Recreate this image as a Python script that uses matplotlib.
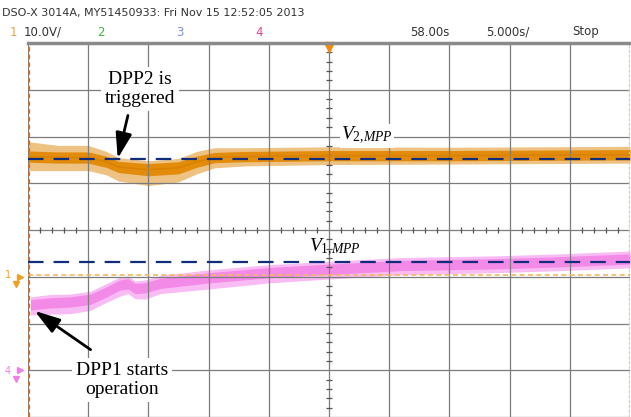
import numpy as np
import matplotlib
matplotlib.use("Agg")
import matplotlib.pyplot as plt

plt.rcParams['mathtext.fontset'] = 'custom'
plt.rcParams['mathtext.it'] = 'Liberation Serif:italic'
plt.rcParams['mathtext.rm'] = 'Liberation Serif'

# channel 1 (orange), time in s, volts (ch1 ground = 0 V)
t1 = [0, 2.5, 5, 6.5, 7.5, 10, 12.5, 14, 15.5, 18, 25, 35, 50]
v1 = [25.7, 25.5, 25.5, 24.6, 23.5, 22.9, 23.3, 24.6, 25.5, 25.7, 25.9, 25.9, 26.1]
v1_core = [1.2, 1.2, 1.2, 1.2, 1.2, 1.3, 1.3, 1.2, 1.1, 1.1, 1.1, 1.1, 1.1]
v1_up = [3.2, 2.6, 2.6, 2.2, 2.0, 1.9, 2.0, 2.2, 2.1, 1.9, 1.9, 1.8, 1.8]
v1_dn = [3.0, 2.8, 2.8, 2.8, 3.0, 3.4, 3.0, 2.6, 2.2, 2.0, 1.9, 1.8, 1.8]

# channel 4 (pink)
t4 = [0.2, 1.8, 3.5, 5.2, 6.4, 7.6, 8.3, 8.9, 9.7, 11, 15.1, 20.1, 24.3, 30.9, 39.2, 44.2, 50]
v4 = [-6.0, -5.6, -5.4, -4.8, -3.4, -1.8, -1.5, -2.5, -2.4, -1.4, -0.2, 0.9, 1.5, 2.4, 2.8, 3.2, 3.8]
v4_core = [1.1] * len(t4)
v4_up = [1.7, 1.8, 1.7, 1.7, 1.8, 1.7, 1.7, 1.6, 1.7, 1.7, 1.7, 1.7, 1.7, 1.7, 1.7, 1.7, 1.7]
v4_dn = [2.2, 2.4, 2.5, 2.4, 2.2, 2.4, 2.1, 2.2, 2.4, 2.2, 2.4, 2.2, 2.1, 2.0, 1.9, 1.9, 1.9]

v2_mpp = 25.2
v1_mpp = 3.2
gnd1 = 0.3

fig = plt.figure(figsize=(6.31, 4.17), dpi=100)
ax = fig.add_axes([28 / 631, 0, 602 / 631, 374 / 417])
ax.set_xlim(0, 50)
ax.set_ylim(-30, 50)
ax.set_xticks(np.arange(0, 51, 5))
ax.set_yticks(np.arange(-30, 51, 10))
ax.tick_params(length=0, labelbottom=False, labelleft=False)
ax.grid(color='#7c7c7c', lw=0.9)
for s in ['left', 'right', 'bottom']:
    ax.spines[s].set_visible(False)
ax.spines['top'].set_color('#8a8a8a')
ax.spines['top'].set_linewidth(2.5)

# centre line minor ticks
mx = [x for x in np.arange(0, 50.01, 1.0) if x % 5 != 0]
ax.plot(mx, [10] * len(mx), ls='none', marker='|', ms=5, mew=0.9, color='#555555')
my = [y for y in np.arange(-30, 50.01, 2.0) if y % 10 != 0]
ax.plot([25] * len(my), my, ls='none', marker='_', ms=5, mew=0.9, color='#555555')

# edges
ax.axvline(0.05, color='#c0703a', ls=(0, (2, 1.5)), lw=1.6)
ax.axvline(49.9, color='#f0c890', ls=(0, (2, 1.5)), lw=1.0)
ax.axhline(gnd1, color='#f0b860', ls=(0, (3, 2)), lw=1.2)

# traces
t1a, v1a = np.array(t1), np.array(v1)
ax.fill_between(t1a, v1a - np.array(v1_dn), v1a + np.array(v1_up), color='#e8ae5a', lw=0, alpha=0.75)
ax.fill_between(t1a, v1a - np.array(v1_core), v1a + np.array(v1_core), color='#e38c0c', lw=0)
ax.plot(t1a, v1a, color='#d88200', lw=1.2)

t4a, v4a = np.array(t4), np.array(v4)
ax.fill_between(t4a, v4a - np.array(v4_dn), v4a + np.array(v4_up), color='#f8b0f2', lw=0, alpha=0.85)
ax.fill_between(t4a, v4a - np.array(v4_core), v4a + np.array(v4_core), color='#f48ae8', lw=0)

ax.axhline(v2_mpp, color='#0f2d7a', ls=(0, (7, 4.5)), lw=1.6)
ax.axhline(v1_mpp, color='#0f2d7a', ls=(0, (7, 4.5)), lw=1.6)

# trigger marker and channel markers
ax.plot([25], [49.2], marker='v', ms=7, color='#f08a10', clip_on=False)
ax.plot([-0.7], [0], marker='>', ms=5, color='#f0a020', clip_on=False)
ax.text(-1.4, 0.3, '1', color='#f0a020', fontsize=7, ha='right', va='center', clip_on=False)
ax.plot([-1.0], [-1.6], marker='v', ms=4, color='#f0a020', clip_on=False)
ax.plot([-0.7], [-20], marker='>', ms=5, color='#f080e8', clip_on=False)
ax.text(-1.4, -20.2, '4', color='#f080e8', fontsize=7, ha='right', va='center', clip_on=False)
ax.plot([-1.0], [-21.8], marker='v', ms=4, color='#f080e8', clip_on=False)

# annotations
serif = 'Liberation Serif'
box = dict(facecolor='white', edgecolor='none', pad=3)
ax.text(9.3, 40.2, 'DPP2 is\ntriggered', family=serif, fontsize=14, ha='center', va='center',
        linespacing=1.15, bbox=box, zorder=5)
ax.annotate('', xy=(7.45, 25.3), xytext=(8.3, 34.5),
            arrowprops=dict(arrowstyle='-|>,head_width=0.35,head_length=1.1', color='black',
                            lw=2, mutation_scale=14, shrinkA=0, shrinkB=0), zorder=6)
ax.text(7.8, -22.0, 'DPP1 starts\noperation', family=serif, fontsize=14, ha='center', va='center',
        linespacing=1.15, bbox=box, zorder=5)
ax.annotate('', xy=(0.55, -7.3), xytext=(5.2, -15.6),
            arrowprops=dict(arrowstyle='-|>,head_width=0.35,head_length=1.1', color='black',
                            lw=2, mutation_scale=14, shrinkA=0, shrinkB=0), zorder=6)
ax.text(26.0, 30.2, r'$V_{2{,}MPP}$', fontsize=14, ha='left', va='center',
        bbox=dict(facecolor='white', edgecolor='none', pad=1), zorder=5)
ax.text(23.3, 6.2, r'$V_{1{,}MPP}$', fontsize=14, ha='left', va='center', zorder=5)

# header
hf = ['Liberation Sans Narrow', 'DejaVu Sans']
fig.text(2 / 631, 1 - 13 / 417, 'DSO-X 3014A, MY51450933: Fri Nov 15 12:52:05 2013',
         family=hf, fontsize=8, color='#333333', va='center')
row = 1 - 32 / 417
fig.text(10 / 631, row, '1', family=hf, fontsize=8.5, color='#f0a040', va='center')
fig.text(24 / 631, row, '10.0V/', family=hf, fontsize=8.5, color='#333333', va='center')
fig.text(97 / 631, row, '2', family=hf, fontsize=8.5, color='#40b840', va='center')
fig.text(176 / 631, row, '3', family=hf, fontsize=8.5, color='#7f8fe0', va='center')
fig.text(255 / 631, row, '4', family=hf, fontsize=8.5, color='#e0409a', va='center')
fig.text(410 / 631, row, '58.00s', family=hf, fontsize=8.5, color='#333333', va='center')
fig.text(486 / 631, row, '5.000s/', family=hf, fontsize=8.5, color='#333333', va='center')
fig.text(572 / 631, row, 'Stop', family=hf, fontsize=8.5, color='#333333', va='center')

fig.savefig('out.png', dpi=100)
